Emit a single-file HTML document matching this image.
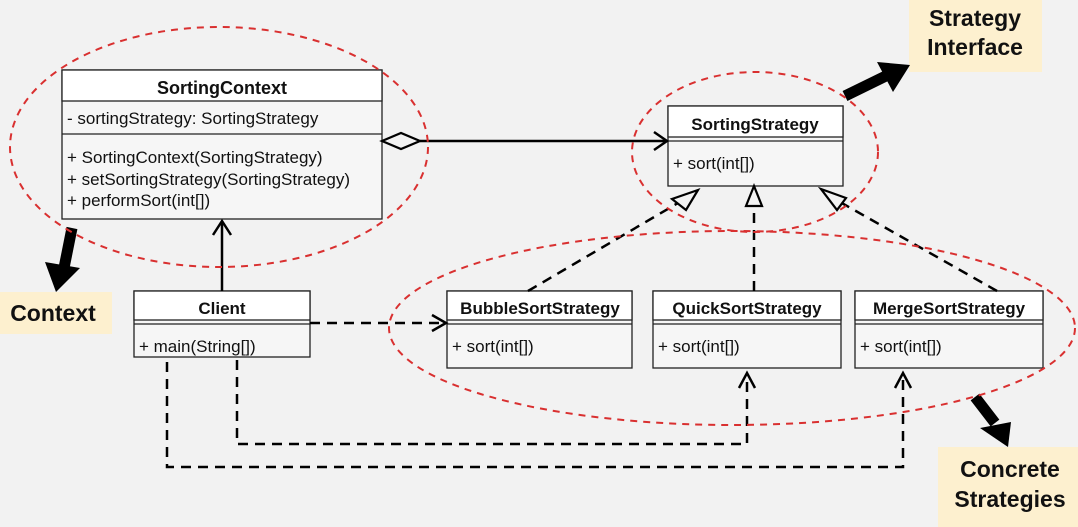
<!DOCTYPE html>
<html><head><style>
html,body{margin:0;padding:0;background:#f2f2f2;}
svg{display:block;font-family:"Liberation Sans",Arial,sans-serif;}
</style></head><body>
<svg width="1078" height="527" viewBox="0 0 1078 527" xmlns="http://www.w3.org/2000/svg">
<rect width="1078" height="527" fill="#f2f2f2"/>
<rect x="909" y="0" width="133" height="72" fill="#fdf0cf"/>
<text x="975" y="26" font-size="23" font-weight="bold" text-anchor="middle" fill="#111">Strategy</text>
<text x="975" y="55" font-size="23" font-weight="bold" text-anchor="middle" fill="#111">Interface</text>
<rect x="0" y="292" width="112" height="42" fill="#fdf0cf"/>
<text x="53" y="321" font-size="23" font-weight="bold" text-anchor="middle" fill="#111">Context</text>
<rect x="938" y="447" width="140" height="80" fill="#fdf0cf"/>
<text x="1010" y="477" font-size="23" font-weight="bold" text-anchor="middle" fill="#111">Concrete</text>
<text x="1010" y="507" font-size="23" font-weight="bold" text-anchor="middle" fill="#111">Strategies</text>

<g fill="#000" stroke="#000">
<line x1="845" y1="96" x2="890" y2="74" stroke-width="11"/>
<polygon points="877,62 910,65 893,92" stroke="none"/>
<line x1="72" y1="228" x2="64" y2="268" stroke-width="11"/>
<polygon points="45,262 80,268 56,292" stroke="none"/>
<line x1="975" y1="397" x2="995" y2="423" stroke-width="11"/>
<polygon points="980,428 1011,422 1008,447" stroke="none"/>
</g>

<g stroke="#222" stroke-width="1.3">
<rect x="62" y="70" width="320" height="149" fill="#f6f6f6"/>
<rect x="62" y="70" width="320" height="31" fill="#fff"/>
<line x1="62" y1="134" x2="382" y2="134"/>
<rect x="668" y="106" width="175" height="80" fill="#f6f6f6"/>
<rect x="668" y="106" width="175" height="31" fill="#fff"/>
<line x1="668" y1="141" x2="843" y2="141"/>
<rect x="134" y="291" width="176" height="66" fill="#f6f6f6"/>
<rect x="134" y="291" width="176" height="29" fill="#fff"/>
<line x1="134" y1="324" x2="310" y2="324"/>
<rect x="447" y="291" width="185" height="77" fill="#f6f6f6"/>
<rect x="447" y="291" width="185" height="29" fill="#fff"/>
<line x1="447" y1="324" x2="632" y2="324"/>
<rect x="653" y="291" width="188" height="77" fill="#f6f6f6"/>
<rect x="653" y="291" width="188" height="29" fill="#fff"/>
<line x1="653" y1="324" x2="841" y2="324"/>
<rect x="855" y="291" width="188" height="77" fill="#f6f6f6"/>
<rect x="855" y="291" width="188" height="29" fill="#fff"/>
<line x1="855" y1="324" x2="1043" y2="324"/>
</g>
<g font-size="17" fill="#111">
<text x="222" y="94" font-weight="bold" text-anchor="middle" font-size="18">SortingContext</text>
<text x="67" y="124">- sortingStrategy: SortingStrategy</text>
<text x="67" y="163">+ SortingContext(SortingStrategy)</text>
<text x="67" y="185">+ setSortingStrategy(SortingStrategy)</text>
<text x="67" y="206">+ performSort(int[])</text>
<text x="755" y="130" font-weight="bold" text-anchor="middle" font-size="17">SortingStrategy</text>
<text x="673" y="169">+ sort(int[])</text>
<text x="222" y="314" font-weight="bold" text-anchor="middle" font-size="17">Client</text>
<text x="139" y="352">+ main(String[])</text>
<text x="540" y="314" font-weight="bold" text-anchor="middle" font-size="17">BubbleSortStrategy</text>
<text x="452" y="352">+ sort(int[])</text>
<text x="747" y="314" font-weight="bold" text-anchor="middle" font-size="17">QuickSortStrategy</text>
<text x="658" y="352">+ sort(int[])</text>
<text x="949" y="314" font-weight="bold" text-anchor="middle" font-size="17">MergeSortStrategy</text>
<text x="860" y="352">+ sort(int[])</text>
</g>

<g stroke="#000" stroke-width="2.5" fill="none">
<line x1="420" y1="141" x2="666" y2="141"/>
<polyline points="654,132 667,141 654,150"/>
<line x1="222" y1="291" x2="222" y2="222"/>
<polyline points="213,235 222,221 231,235"/>
<g stroke-dasharray="10,7">
<line x1="310" y1="323" x2="444" y2="323"/>
<line x1="528" y1="291" x2="678" y2="203"/>
<line x1="754" y1="291" x2="754" y2="205"/>
<line x1="997" y1="291" x2="840" y2="202"/>
<polyline points="237,360 237,444 747,444 747,375"/>
<polyline points="167,362 167,467 903,467 903,375"/>
</g>
<polyline points="432,315 446,323 432,331"/>
<polyline points="739,388 747,373 755,388"/>
<polyline points="895,388 903,373 911,388"/>
</g>
<g stroke="#000" stroke-width="2.2" fill="#f2f2f2">
<polygon points="382,141 401,133 420,141 401,149"/>
<polygon points="698,190 686,210 672,199"/>
<polygon points="754,186 746,206 762,206"/>
<polygon points="821,189 846,198 837,210"/>
</g>

<g stroke="#d93030" stroke-width="2" fill="none" stroke-dasharray="7,6">
<ellipse cx="219" cy="147" rx="209" ry="120"/>
<ellipse cx="755" cy="152" rx="123" ry="80"/>
<ellipse cx="732" cy="328" rx="343" ry="97"/>
</g>
</svg>
</body></html>
